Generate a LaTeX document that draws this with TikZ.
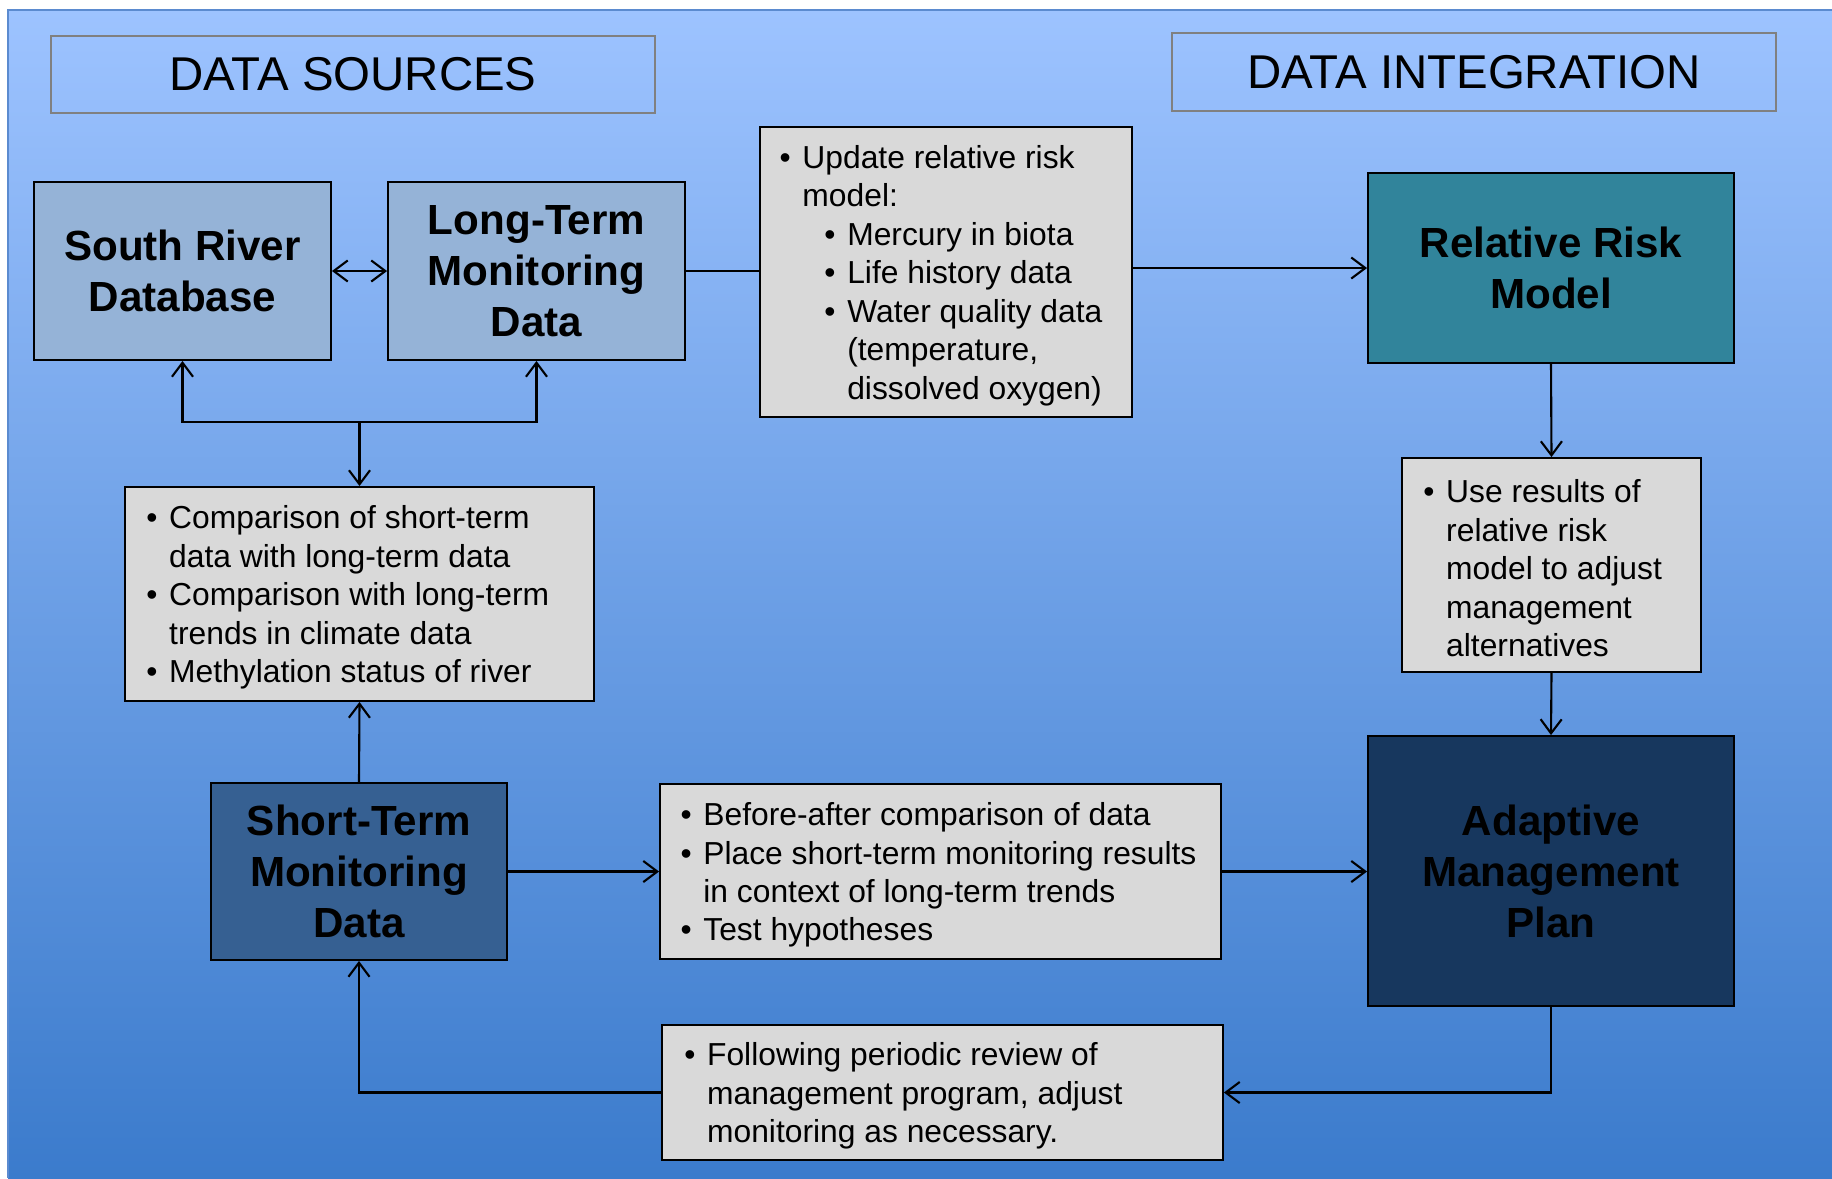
\documentclass[tikz,border=0pt]{standalone}
\usepackage{fontspec}
\setmainfont{Liberation Sans}
\usetikzlibrary{arrows.meta,positioning}

% palette
\definecolor{bgtop}{HTML}{9DC3FF}
\definecolor{bgbot}{HTML}{3B7BCC}
\definecolor{paneledge}{HTML}{5B8BD0}
\definecolor{srcblue}{HTML}{95B3D7}
\definecolor{riskteal}{HTML}{31849B}
\definecolor{stblue}{HTML}{366092}
\definecolor{ampnavy}{HTML}{17375E}
\definecolor{notegray}{HTML}{D9D9D9}
\definecolor{hdrgray}{HTML}{808080}

% bullet helpers for the note boxes
\newcommand{\itembul}{\makebox[13pt][l]{•}}
\newcommand{\itemgap}{\hspace*{13pt}}
\newcommand{\subbul}{\hspace*{25.5pt}\makebox[13pt][l]{•}}
\newcommand{\subgap}{\hspace*{38.5pt}}

\tikzset{
  header/.style={draw=hdrgray, line width=1pt, inner sep=0pt,
    font=\fontsize{27}{32}\selectfont},
  titlebox/.style={draw=black, line width=1.1pt, inner sep=0pt, align=center,
    font=\fontsize{24}{29}\selectfont\bfseries},
  notebox/.style={draw=black, line width=1.1pt, fill=notegray, inner sep=0pt},
  notetext/.style={anchor=west, align=left, inner sep=0pt, yshift=-2pt,
    font=\fontsize{18.1}{21.9}\selectfont},
  link/.style={line width=1.2pt, draw=black},
  arr/.style={link, -{Straight Barb[length=8pt,width=12pt]}},
  dblarr/.style={link, {Straight Barb[length=8pt,width=12pt]}-{Straight Barb[length=8pt,width=12pt]}}
}

\begin{document}
\begin{tikzpicture}[x=0.02cm, y=-0.02cm]
\useasboundingbox (0,0) rectangle (1832,1178);
\fill[white] (0,0) rectangle (1832,1178);

% gradient panel
\shade[top color=bgtop, bottom color=bgbot] (8,10) rectangle (1832,1178);
\draw[paneledge, line width=1pt] (8,1178) -- (8,10) -- (1832,10);

% section headers
\node[header, minimum width=12.08cm, minimum height=1.54cm] (hsrc) at (353,74.5) {DATA SOURCES};
\node[header, minimum width=12.08cm, minimum height=1.56cm] (hint) at (1474,72) {DATA INTEGRATION};

% main boxes
\node[titlebox, fill=srcblue, minimum width=5.94cm, minimum height=3.56cm] (sr) at (182.5,271) {South River\\Database};
\node[titlebox, fill=srcblue, minimum width=5.94cm, minimum height=3.56cm] (lt) at (536.5,271) {Long-Term\\Monitoring\\Data};
\node[titlebox, fill=riskteal, minimum width=7.32cm, minimum height=3.80cm] (rrm) at (1551,268) {Relative Risk\\Model};
\node[titlebox, fill=ampnavy, minimum width=7.32cm, minimum height=5.40cm] (amp) at (1551,871) {Adaptive\\Management\\Plan};
\node[titlebox, fill=stblue, minimum width=5.92cm, minimum height=3.54cm] (st) at (359,871.5) {Short-Term\\Monitoring\\Data};

% note boxes
\node[notebox, minimum width=7.44cm, minimum height=5.80cm] (up) at (946,272) {};
\node[notetext] (upT) at ([xshift=11.5pt]up.west) {%
  \itembul Update relative risk\\
  \itemgap model:\\
  \subbul Mercury in biota\\
  \subbul Life history data\\
  \subbul Water quality data\\
  \subgap (temperature,\\
  \subgap dissolved oxygen)};

\node[notebox, minimum width=5.98cm, minimum height=4.28cm] (use) at (1551.5,565) {};
\node[notetext] (useT) at ([xshift=12.5pt]use.west) {%
  \itembul Use results of\\
  \itemgap relative risk\\
  \itemgap model to adjust\\
  \itemgap management\\
  \itemgap alternatives};

\node[notebox, minimum width=9.38cm, minimum height=4.28cm] (cmp) at (359.5,594) {};
\node[notetext] (cmpT) at ([xshift=12.5pt]cmp.west) {%
  \itembul Comparison of short-term\\
  \itemgap data with long-term data\\
  \itembul Comparison with long-term\\
  \itemgap trends in climate data\\
  \itembul Methylation status of river};

\node[notebox, minimum width=11.22cm, minimum height=3.50cm] (ba) at (940.5,871.5) {};
\node[notetext] (baT) at ([xshift=12pt]ba.west) {%
  \itembul Before-after comparison of data\\
  \itembul Place short-term monitoring results\\
  \itemgap in context of long-term trends\\
  \itembul Test hypotheses};

\node[notebox, minimum width=11.22cm, minimum height=2.70cm] (fp) at (942.5,1092.5) {};
\node[notetext] (fpT) at ([xshift=13pt]fp.west) {%
  \itembul Following periodic review of\\
  \itemgap management program, adjust\\
  \itemgap monitoring as necessary.};

% connectors
\draw[dblarr] (sr.east) -- (lt.west);
\draw[link] (lt.east) -- (up.west |- lt.east);
\draw[arr] (up.east |- rrm.west) -- (rrm.west);

\path (cmp.north) ++(0,-64) coordinate (join);
\draw[arr] (join) -| (sr.south);
\draw[arr] (join) -| (lt.south);
\draw[arr] (join) -- (cmp.north);

\draw[arr] (st.north) -- (cmp.south);
\draw[arr] (st.east) -- (ba.west);
\draw[arr] (ba.east) -- (amp.west |- ba.east);
\draw[arr] (rrm.south) -- (use.north);
\draw[arr] (use.south) -- (amp.north);
\draw[arr] (amp.south) |- (fp.east);
\draw[arr] (fp.west) -| (st.south);
\end{tikzpicture}
\end{document}
